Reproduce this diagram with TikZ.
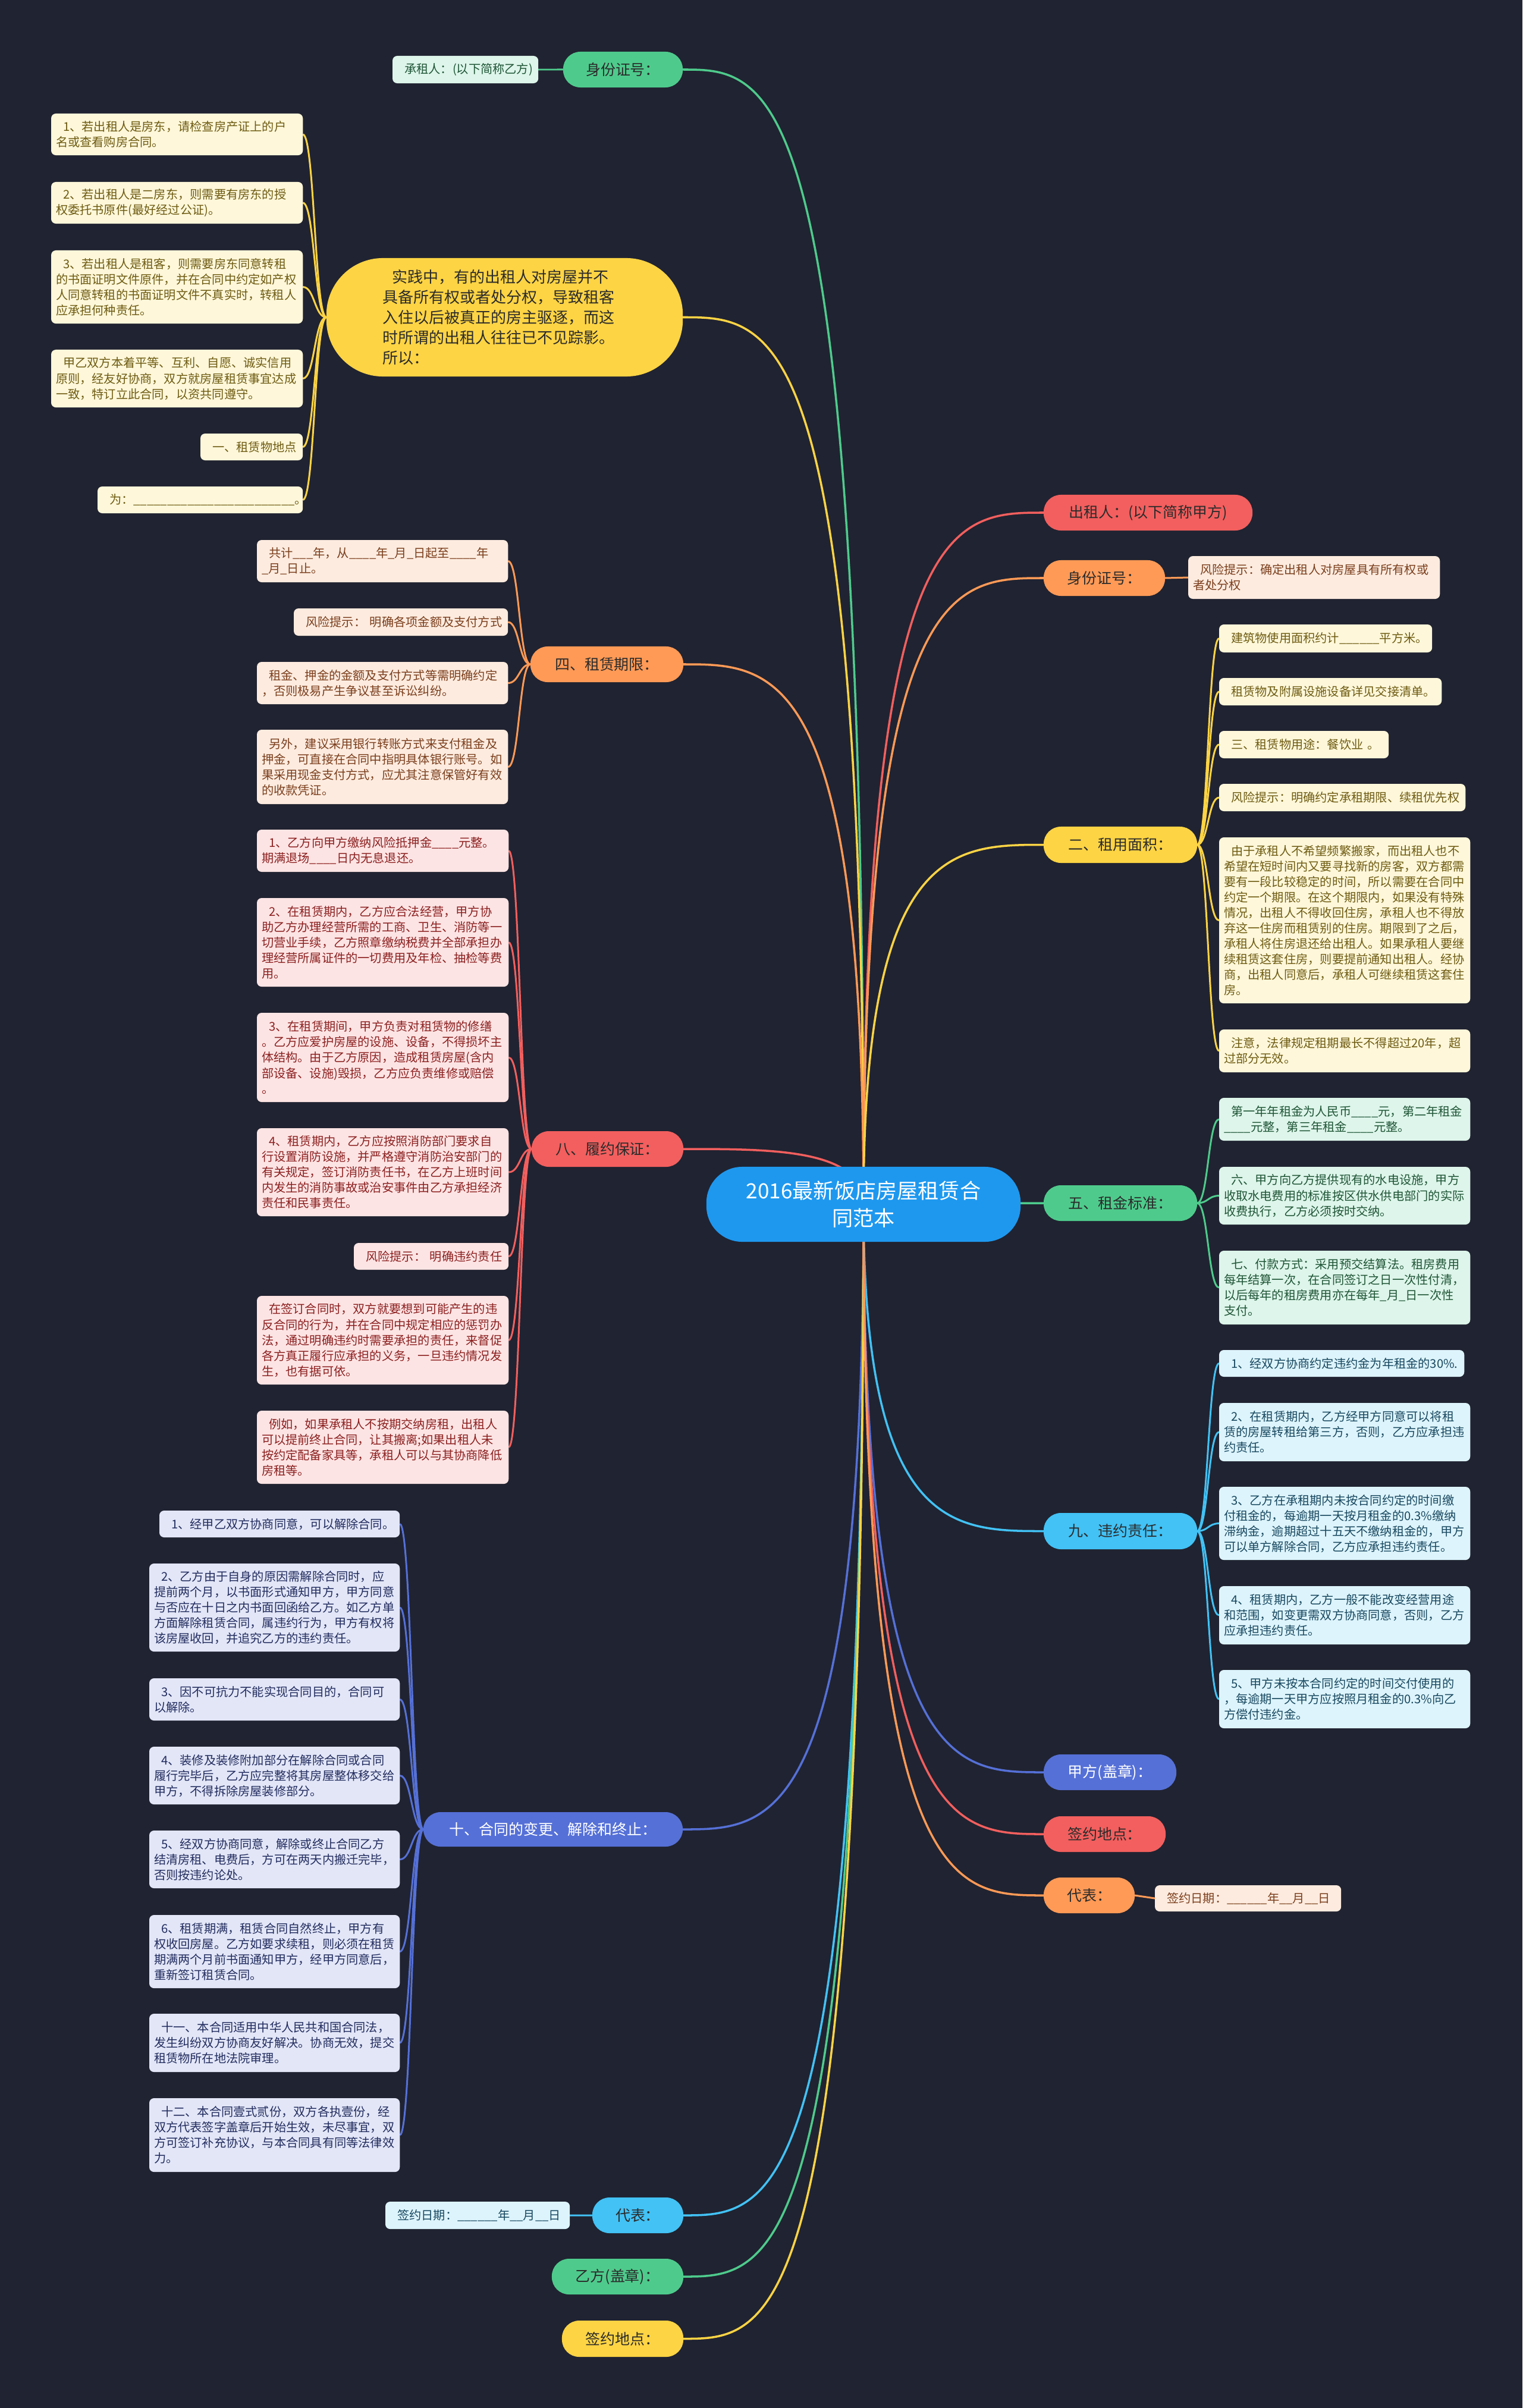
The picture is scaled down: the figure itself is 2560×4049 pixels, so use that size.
\documentclass[tikz,border=0pt]{standalone}
\usepackage{fontspec}
\newfontfamily\cjk{Noto Sans CJK SC}
\usetikzlibrary{calc, backgrounds}
\definecolor{Night}{HTML}{202331}
\definecolor{Azure}{HTML}{1E98EF}
\definecolor{Coral}{HTML}{F25F5E}
\definecolor{Apricot}{HTML}{FF9A56}
\definecolor{Sun}{HTML}{FDD444}
\definecolor{Mint}{HTML}{4ECB8C}
\definecolor{Sky}{HTML}{42C2F5}
\definecolor{Indigo}{HTML}{5570D7}
\definecolor{Ink}{HTML}{2B2B2B}
\definecolor{SunLeaf}{HTML}{FEF7DA}
\definecolor{SunInk}{HTML}{6E5C12}
\definecolor{ApriLeaf}{HTML}{FDEBDF}
\definecolor{ApriInk}{HTML}{7B3F1D}
\definecolor{CoralLeaf}{HTML}{FDE4E4}
\definecolor{CoralInk}{HTML}{8C2020}
\definecolor{MintLeaf}{HTML}{DDF5EA}
\definecolor{MintInk}{HTML}{1F5536}
\definecolor{SkyLeaf}{HTML}{DDF4FC}
\definecolor{SkyInk}{HTML}{18485F}
\definecolor{IndiLeaf}{HTML}{E2E6F7}
\definecolor{IndiInk}{HTML}{232D5F}
\newcommand\indt{\hspace*{0.6em}}
\tikzset{
    rootbox/.style={rectangle, rounded corners=0.6cm, fill=Azure, text=white, align=center, inner sep=0pt, outer sep=0pt, font=\cjk\fontsize{10}{13}\selectfont},
    pillbox/.style={rectangle, rounded corners=0.29cm, minimum height=0.6cm, inner sep=0pt, outer sep=0pt, text=Ink, font=\cjk\fontsize{7.1}{8.5}\selectfont},
    leafbox/.style={rectangle, anchor=north west, rounded corners=0.08cm, inner xsep=0.08cm, inner ysep=0pt, outer sep=0pt, align=left, font=\cjk\fontsize{5.75}{7.4}\selectfont},
    yleaf/.style={leafbox, fill=SunLeaf, text=SunInk},
    oleaf/.style={leafbox, fill=ApriLeaf, text=ApriInk},
    rleaf/.style={leafbox, fill=CoralLeaf, text=CoralInk},
    gleaf/.style={leafbox, fill=MintLeaf, text=MintInk},
    sleaf/.style={leafbox, fill=SkyLeaf, text=SkyInk},
    ileaf/.style={leafbox, fill=IndiLeaf, text=IndiInk},
    trunk/.style={line width=1pt, to path={.. controls (\tikztostart |- \tikztotarget) and ($(\tikztostart |- \tikztotarget)!0.5!(\tikztotarget)$) .. (\tikztotarget)}},
    twig/.style={line width=0.85pt, to path={.. controls ($(\tikztostart)!0.5!(\tikztostart -| \tikztotarget)$) and ($(\tikztotarget)!0.5!(\tikztotarget -| \tikztostart)$) .. (\tikztotarget)}},
}
\begin{document}
\begin{tikzpicture}[x=0.01cm, y=-0.01cm]
\useasboundingbox (0,0) rectangle (2560,4049);

% centre
\node[rootbox, minimum width=5.28cm, minimum height=1.26cm] (root) at (1452,2025) {2016最新饭店房屋租赁合\\同范本};

% left: 身份证号
\node[pillbox, fill=Mint, minimum width=2.01cm] (lid) at (1047.5,117) {身份证号：};
\node[gleaf, text width=2.29cm, minimum height=0.46cm] (lida) at (660,94) {\indt 承租人：(以下简称乙方)};

% left: 实践中
\node[pillbox, fill=Sun, rounded corners=0.95cm, minimum width=5.99cm, minimum height=1.99cm, text width=4.1cm, align=left, font=\cjk\fontsize{7.4}{9.7}\selectfont] (lbig) at (848.5,533.5) {\indt 实践中，有的出租人对房屋并不\\具备所有权或者处分权，导致租客\\入住以后被真正的房主驱逐，而这\\时所谓的出租人往往已不见踪影。\\所以：};
\node[yleaf, text width=4.07cm, minimum height=0.70cm] (lbiga) at (86,191) {\indt 1、若出租人是房东，请检查房产证上的户\\名或查看购房合同。};
\node[yleaf, text width=4.07cm, minimum height=0.70cm] (lbigb) at (86,306) {\indt 2、若出租人是二房东，则需要有房东的授\\权委托书原件(最好经过公证)。};
\node[yleaf, text width=4.07cm, minimum height=1.23cm] (lbigc) at (86,421) {\indt 3、若出租人是租客，则需要房东同意转租\\的书面证明文件原件，并在合同中约定如产权\\人同意转租的书面证明文件不真实时，转租人\\应承担何种责任。};
\node[yleaf, text width=4.07cm, minimum height=0.97cm] (lbigd) at (86,588) {\indt 甲乙双方本着平等、互利、自愿、诚实信用\\原则，经友好协商，双方就房屋租赁事宜达成\\一致，特订立此合同，以资共同遵守。};
\node[yleaf, text width=1.56cm, minimum height=0.45cm] (lbige) at (337,729) {\indt 一、租赁物地点};
\node[yleaf, text width=3.29cm, minimum height=0.45cm] (lbigf) at (164,818) {\indt 为：\_\_\_\_\_\_\_\_\_\_\_\_\_\_\_\_\_\_\_\_\_\_\_\_。};

% left: 四、租赁期限
\node[pillbox, fill=Apricot, minimum width=2.57cm] (lterm) at (1020.5,1117) {四、租赁期限：};
\node[oleaf, text width=4.06cm, minimum height=0.71cm] (lterma) at (432,908) {\indt 共计\_\_\_年，从\_\_\_\_年\_月\_日起至\_\_\_\_年\\\_月\_日止。};
\node[oleaf, text width=3.44cm, minimum height=0.46cm] (ltermb) at (494,1023) {\indt 风险提示：~明确各项金额及支付方式};
\node[oleaf, text width=4.06cm, minimum height=0.71cm] (ltermc) at (432,1113) {\indt 租金、押金的金额及支付方式等需明确约定\\，否则极易产生争议甚至诉讼纠纷。};
\node[oleaf, text width=4.06cm, minimum height=1.25cm] (ltermd) at (432,1227) {\indt 另外，建议采用银行转账方式来支付租金及\\押金，可直接在合同中指明具体银行账号。如\\果采用现金支付方式，应尤其注意保管好有效\\的收款凭证。};

% left: 八、履约保证
\node[pillbox, fill=Coral, minimum width=2.55cm] (lbond) at (1021.5,1932) {八、履约保证：};
\node[rleaf, text width=4.07cm, minimum height=0.71cm] (lbonda) at (432,1395) {\indt 1、乙方向甲方缴纳风险抵押金\_\_\_\_元整。\\期满退场\_\_\_\_日内无息退还。};
\node[rleaf, text width=4.07cm, minimum height=1.49cm] (lbondb) at (432,1510) {\indt 2、在租赁期内，乙方应合法经营，甲方协\\助乙方办理经营所需的工商、卫生、消防等一\\切营业手续，乙方照章缴纳税费并全部承担办\\理经营所属证件的一切费用及年检、抽检等费\\用。};
\node[rleaf, text width=4.07cm, minimum height=1.50cm] (lbondc) at (432,1703) {\indt 3、在租赁期间，甲方负责对租赁物的修缮\\。乙方应爱护房屋的设施、设备，不得损坏主\\体结构。由于乙方原因，造成租赁房屋(含内\\部设备、设施)毁损，乙方应负责维修或赔偿\\。};
\node[rleaf, text width=4.07cm, minimum height=1.48cm] (lbondd) at (432,1897) {\indt 4、租赁期内，乙方应按照消防部门要求自\\行设置消防设施，并严格遵守消防治安部门的\\有关规定，签订消防责任书，在乙方上班时间\\内发生的消防事故或治安事件由乙方承担经济\\责任和民事责任。};
\node[rleaf, text width=2.44cm, minimum height=0.45cm] (lbonde) at (595,2090) {\indt 风险提示：~明确违约责任};
\node[rleaf, text width=4.07cm, minimum height=1.49cm] (lbondf) at (432,2179) {\indt 在签订合同时，双方就要想到可能产生的违\\反合同的行为，并在合同中规定相应的惩罚办\\法，通过明确违约时需要承担的责任，来督促\\各方真正履行应承担的义务，一旦违约情况发\\生，也有据可依。};
\node[rleaf, text width=4.07cm, minimum height=1.23cm] (lbondg) at (432,2372) {\indt 例如，如果承租人不按期交纳房租，出租人\\可以提前终止合同，让其搬离;如果出租人未\\按约定配备家具等，承租人可以与其协商降低\\房租等。};

% left: 十、合同的变更
\node[pillbox, fill=Indigo, text=white, minimum width=4.36cm, minimum height=0.58cm] (lend) at (930,3076) {十、合同的变更、解除和终止：};
\node[ileaf, text width=3.88cm, minimum height=0.45cm] (lenda) at (268,2540) {\indt 1、经甲乙双方协商同意，可以解除合同。};
\node[ileaf, text width=4.05cm, minimum height=1.48cm] (lendb) at (251,2629) {\indt 2、乙方由于自身的原因需解除合同时，应\\提前两个月，以书面形式通知甲方，甲方同意\\与否应在十日之内书面回函给乙方。如乙方单\\方面解除租赁合同，属违约行为，甲方有权将\\该房屋收回，并追究乙方的违约责任。};
\node[ileaf, text width=4.05cm, minimum height=0.71cm] (lendc) at (251,2822) {\indt 3、因不可抗力不能实现合同目的，合同可\\以解除。};
\node[ileaf, text width=4.05cm, minimum height=0.97cm] (lendd) at (251,2937) {\indt 4、装修及装修附加部分在解除合同或合同\\履行完毕后，乙方应完整将其房屋整体移交给\\甲方，不得拆除房屋装修部分。};
\node[ileaf, text width=4.05cm, minimum height=0.97cm] (lende) at (251,3078) {\indt 5、经双方协商同意，解除或终止合同乙方\\结清房租、电费后，方可在两天内搬迁完毕，\\否则按违约论处。};
\node[ileaf, text width=4.05cm, minimum height=1.23cm] (lendf) at (251,3220) {\indt 6、租赁期满，租赁合同自然终止，甲方有\\权收回房屋。乙方如要求续租，则必须在租赁\\期满两个月前书面通知甲方，经甲方同意后，\\重新签订租赁合同。};
\node[ileaf, text width=4.05cm, minimum height=0.98cm] (lendg) at (251,3386) {\indt 十一、本合同适用中华人民共和国合同法，\\发生纠纷双方协商友好解决。协商无效，提交\\租赁物所在地法院审理。};
\node[ileaf, text width=4.05cm, minimum height=1.24cm] (lendh) at (251,3528) {\indt 十二、本合同壹式贰份，双方各执壹份，经\\双方代表签字盖章后开始生效，未尽事宜，双\\方可签订补充协议，与本合同具有同等法律效\\力。};

% left: bottom
\node[pillbox, fill=Sky, minimum width=1.53cm] (lrep) at (1072.5,3725) {代表：};
\node[sleaf, text width=2.94cm, minimum height=0.46cm] (lrepa) at (648,3702) {\indt 签约日期：\_\_\_\_\_\_年\_\_月\_\_日};
\node[pillbox, fill=Mint, minimum width=2.21cm] (lseal) at (1038.5,3828) {乙方(盖章)：};
\node[pillbox, fill=Sun, minimum width=2.04cm, minimum height=0.61cm] (lplace) at (1047,3932.5) {签约地点：};

% right: 出租人, 身份证号
\node[pillbox, fill=Coral, minimum width=3.51cm] (rlord) at (1930.5,862) {出租人：(以下简称甲方)};
\node[pillbox, fill=Apricot, minimum width=2.04cm] (rid) at (1857,972) {身份证号：};
\node[oleaf, text width=4.07cm, minimum height=0.72cm] (rida) at (1998,935) {\indt 风险提示：确定出租人对房屋具有所有权或\\者处分权};

% right: 二、租用面积
\node[pillbox, fill=Sun, minimum width=2.58cm, minimum height=0.61cm] (rarea) at (1884,1420.5) {二、租用面积：};
\node[yleaf, text width=3.42cm, minimum height=0.47cm] (rareaa) at (2050,1050) {\indt 建筑物使用面积约计\_\_\_\_\_\_平方米。};
\node[yleaf, text width=3.58cm, minimum height=0.46cm] (rareab) at (2050,1140) {\indt 租赁物及附属设施设备详见交接清单。};
\node[yleaf, text width=2.69cm, minimum height=0.46cm] (rareac) at (2050,1229) {\indt 三、租赁物用途：餐饮业 。};
\node[yleaf, text width=3.98cm, minimum height=0.46cm] (rearead) at (2050,1318) {\indt 风险提示：明确约定承租期限、续租优先权};
\node[yleaf, text width=4.06cm, minimum height=2.79cm] (rareae) at (2050,1408) {\indt 由于承租人不希望频繁搬家，而出租人也不\\希望在短时间内又要寻找新的房客，双方都需\\要有一段比较稳定的时间，所以需要在合同中\\约定一个期限。在这个期限内，如果没有特殊\\情况，出租人不得收回住房，承租人也不得放\\弃这一住房而租赁别的住房。期限到了之后，\\承租人将住房退还给出租人。如果承租人要继\\续租赁这套住房，则要提前通知出租人。经协\\商，出租人同意后，承租人可继续租赁这套住\\房。};
\node[yleaf, text width=4.06cm, minimum height=0.72cm] (rareaf) at (2050,1731) {\indt 注意，法律规定租期最长不得超过20年，超\\过部分无效。};

% right: 五、租金标准
\node[pillbox, fill=Mint, minimum width=2.58cm] (rrent) at (1884,2023) {五、租金标准：};
\node[gleaf, text width=4.06cm, minimum height=0.72cm] (rrenta) at (2050,1846) {\indt 第一年年租金为人民币\_\_\_\_元，第二年租金\\\_\_\_\_元整，第三年租金\_\_\_\_元整。};
\node[gleaf, text width=4.06cm, minimum height=0.97cm] (rrentb) at (2050,1962) {\indt 六、甲方向乙方提供现有的水电设施，甲方\\收取水电费用的标准按区供水供电部门的实际\\收费执行，乙方必须按时交纳。};
\node[gleaf, text width=4.06cm, minimum height=1.24cm] (rrentc) at (2050,2103) {\indt 七、付款方式：采用预交结算法。租房费用\\每年结算一次，在合同签订之日一次性付清，\\以后每年的租房费用亦在每年\_月\_日一次性\\支付。};

% right: 九、违约责任
\node[pillbox, fill=Sky, minimum width=2.58cm, minimum height=0.61cm] (rfault) at (1884,2574.5) {九、违约责任：};
\node[sleaf, text width=3.96cm, minimum height=0.45cm] (rfaulta) at (2050,2270) {\indt 1、经双方协商约定违约金为年租金的30\%.};
\node[sleaf, text width=4.06cm, minimum height=0.98cm] (rfaultb) at (2050,2359) {\indt 2、在租赁期内，乙方经甲方同意可以将租\\赁的房屋转租给第三方，否则，乙方应承担违\\约责任。};
\node[sleaf, text width=4.06cm, minimum height=1.23cm] (rfaultc) at (2050,2500) {\indt 3、乙方在承租期内未按合同约定的时间缴\\付租金的，每逾期一天按月租金的0.3\%缴纳\\滞纳金，逾期超过十五天不缴纳租金的，甲方\\可以单方解除合同，乙方应承担违约责任。};
\node[sleaf, text width=4.06cm, minimum height=0.98cm] (rfaultd) at (2050,2667) {\indt 4、租赁期内，乙方一般不能改变经营用途\\和范围，如变更需双方协商同意，否则，乙方\\应承担违约责任。};
\node[sleaf, text width=4.06cm, minimum height=0.98cm] (rfaulte) at (2050,2808) {\indt 5、甲方未按本合同约定的时间交付使用的\\，每逾期一天甲方应按照月租金的0.3\%向乙\\方偿付违约金。};

% right: bottom
\node[pillbox, fill=Indigo, text=white, minimum width=2.23cm] (rseal) at (1866.5,2980) {甲方(盖章)：};
\node[pillbox, fill=Coral, minimum width=2.05cm] (rplace) at (1857.5,3084) {签约地点：};
\node[pillbox, fill=Apricot, minimum width=1.53cm] (rrep) at (1831.5,3187) {代表：};
\node[oleaf, text width=2.97cm, minimum height=0.44cm] (rrepa) at (1942,3170) {\indt 签约日期：\_\_\_\_\_\_年\_\_月\_\_日};

\begin{scope}[on background layer]
\fill[Night] (0,0) rectangle (2560,4049);
% branches from the centre
\draw[trunk, Mint] (root.center) to (lid.east);
\draw[trunk, Sun] (root.center) to (lbig.east);
\draw[trunk, Apricot] (root.center) to (lterm.east);
\draw[trunk, Coral] (root.center) to (lbond.east);
\draw[trunk, Indigo] (root.center) to (lend.east);
\draw[trunk, Sky] (root.center) to (lrep.east);
\draw[trunk, Mint] (root.center) to (lseal.east);
\draw[trunk, Sun] (root.center) to (lplace.east);
\draw[trunk, Coral] (root.center) to (rlord.west);
\draw[trunk, Apricot] (root.center) to (rid.west);
\draw[trunk, Sun] (root.center) to (rarea.west);
\draw[trunk, Mint] (root.center) to (rrent.west);
\draw[trunk, Sky] (root.center) to (rfault.west);
\draw[trunk, Indigo] (root.center) to (rseal.west);
\draw[trunk, Coral] (root.center) to (rplace.west);
\draw[trunk, Apricot] (root.center) to (rrep.west);
% leaves
\draw[line width=0.85pt, Mint] (lid.west) -- (lida.east);
\draw[line width=0.85pt, Sky] (lrep.west) -- (lrepa.east);
\draw[line width=0.85pt, Apricot] (rid.east) -- (rida.west);
\draw[line width=0.85pt, Apricot] (rrep.east) -- (rrepa.west);
\foreach \k in {a,b,c,d,e,f} \draw[twig, Sun] (lbig.west) to (lbig\k.east);
\foreach \k in {a,b,c,d} \draw[twig, Apricot] (lterm.west) to (lterm\k.east);
\foreach \k in {a,b,c,d,e,f,g} \draw[twig, Coral] (lbond.west) to (lbond\k.east);
\foreach \k in {a,b,c,d,e,f,g,h} \draw[twig, Indigo] (lend.west) to (lend\k.east);
\foreach \k in {a,b,c,e,f} \draw[twig, Sun] (rarea.east) to (rarea\k.west);
\draw[twig, Sun] (rarea.east) to (rearead.west);
\foreach \k in {a,b,c} \draw[twig, Mint] (rrent.east) to (rrent\k.west);
\foreach \k in {a,b,c,d,e} \draw[twig, Sky] (rfault.east) to (rfault\k.west);
\end{scope}
\end{tikzpicture}
\end{document}
